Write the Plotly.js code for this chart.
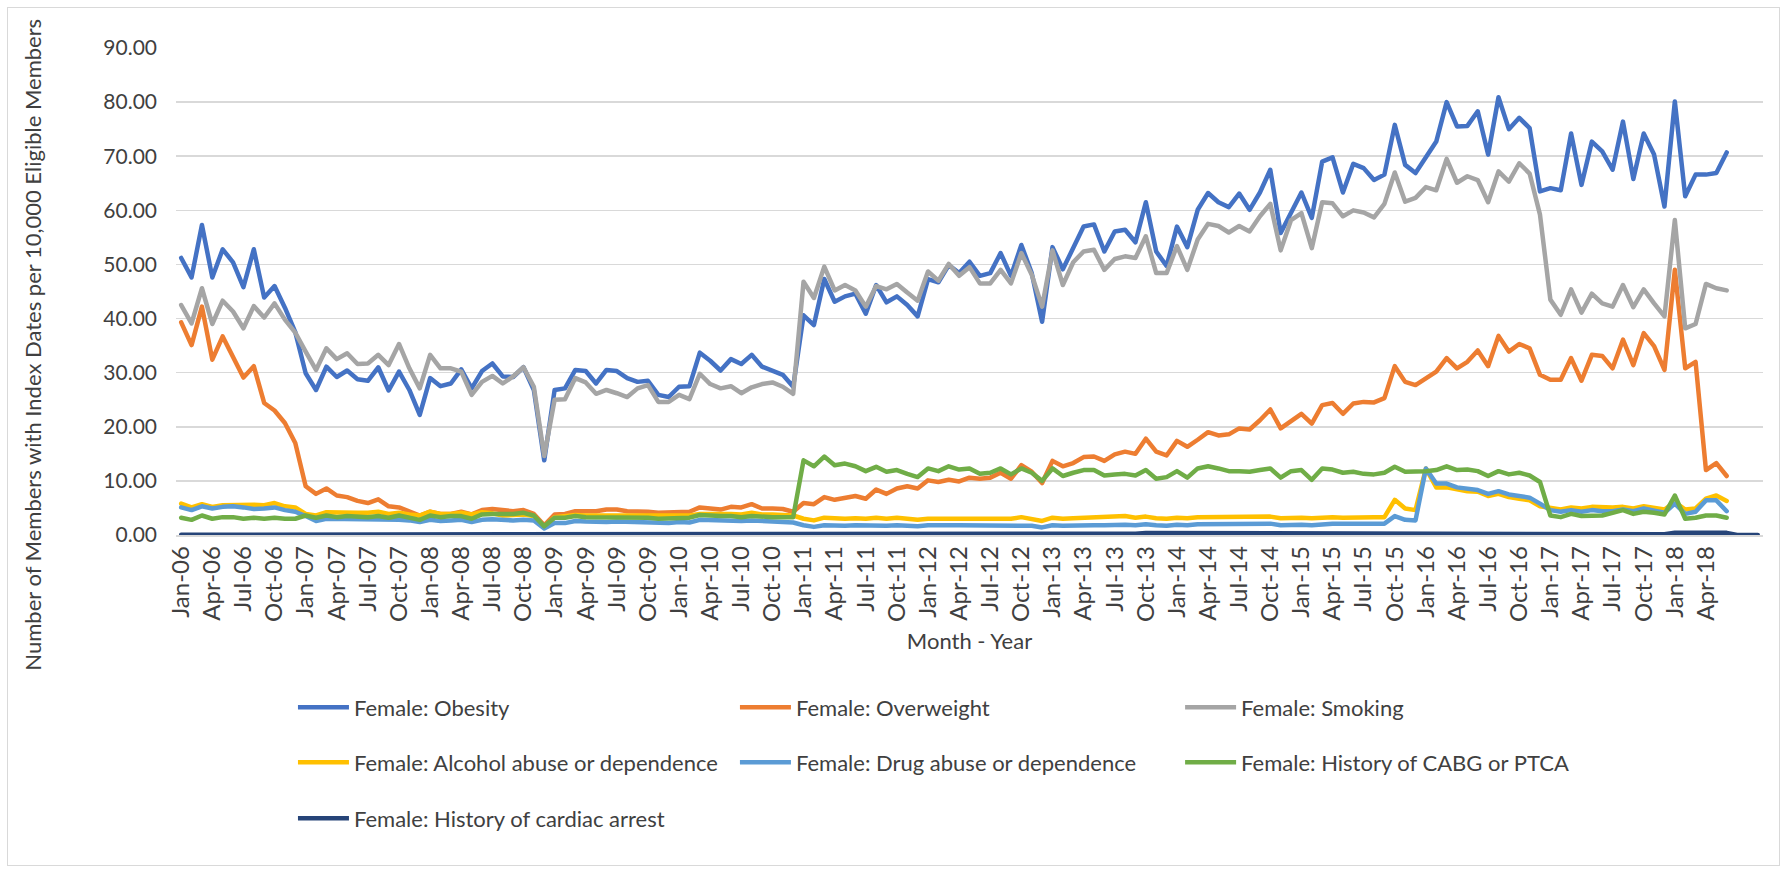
<!DOCTYPE html>
<html>
<head>
<meta charset="utf-8">
<script src="https://cdn.plot.ly/plotly-3.0.1.min.js"></script>
<style>
  html, body { margin: 0; padding: 0; background: #ffffff; }
  #wrap { position: relative; width: 1788px; height: 872px; }
  #chart { width: 1788px; height: 872px; }
  #frame { position: absolute; left: 7px; top: 7px; width: 1771px; height: 857px; border: 1px solid #d9d9d9; pointer-events: none; }
  .scatterlayer .js-line { stroke-linejoin: round; stroke-linecap: round; }
</style>
</head>
<body>
<div id="wrap">
  <div id="chart"></div>
  <div id="frame"></div>
</div>
<script>
const monthNames = ['Jan','Feb','Mar','Apr','May','Jun','Jul','Aug','Sep','Oct','Nov','Dec'];
const firstYear = 6;
const nCategories = 153;
const lastTickLabel = 'Apr-18';

const obesity = [
  51.2,47.6,57.3,47.6,52.8,50.4,45.8,52.8,43.9,46.0,
  42.0,37.5,29.9,26.8,31.1,29.2,30.4,28.8,28.5,31.0,
  26.7,30.2,26.8,22.2,29.0,27.5,28.0,30.6,27.1,30.3,
  31.7,29.3,29.2,31.0,26.8,13.8,26.8,27.1,30.5,30.3,
  28.0,30.5,30.3,29.0,28.3,28.5,25.9,25.5,27.4,27.5,
  33.7,32.2,30.4,32.5,31.6,33.3,31.1,30.4,29.6,27.4,
  40.6,38.8,47.3,43.1,44.1,44.6,40.9,46.2,43.0,44.1,
  42.5,40.4,47.3,46.7,49.9,48.4,50.5,47.9,48.4,52.1,
  47.9,53.6,48.4,39.4,53.2,49.1,53.3,57.0,57.4,52.4,
  56.1,56.4,54.1,61.5,52.4,49.7,57.0,53.2,60.1,63.2,
  61.5,60.6,63.1,60.1,63.3,67.5,55.8,59.6,63.3,58.6,
  69.0,69.8,63.3,68.6,67.8,65.6,66.6,75.8,68.4,66.9,
  69.7,72.7,80.0,75.5,75.6,78.3,70.3,80.9,75.0,77.1,
  75.2,63.5,64.1,63.7,74.2,64.7,72.7,70.9,67.5,76.4,
  65.8,74.2,70.3,60.7,80.1,62.6,66.6,66.6,66.9,70.7
];
const overweight = [
  39.3,35.1,42.2,32.4,36.7,33.0,29.1,31.2,24.4,23.0,
  20.7,17.0,9.0,7.6,8.6,7.3,7.0,6.3,5.9,6.6,
  5.3,5.1,4.3,3.6,4.3,3.9,3.9,4.3,3.8,4.6,
  4.8,4.6,4.4,4.6,3.9,1.8,3.8,3.9,4.4,4.4,
  4.4,4.7,4.7,4.4,4.4,4.3,4.1,4.1,4.3,4.3,
  5.1,4.8,4.7,5.2,5.1,5.7,4.9,4.9,4.8,4.3,
  5.9,5.7,7.0,6.5,6.8,7.2,6.7,8.4,7.6,8.6,
  9.0,8.6,10.1,9.8,10.2,9.9,10.6,10.4,10.6,11.5,
  10.4,12.9,11.7,9.6,13.7,12.7,13.3,14.4,14.5,13.7,
  14.9,15.4,15.0,17.8,15.4,14.7,17.4,16.3,17.6,19.0,
  18.4,18.6,19.7,19.5,21.2,23.2,19.7,21.1,22.4,20.6,
  24.0,24.4,22.4,24.3,24.6,24.5,25.3,31.2,28.3,27.7,
  29.0,30.2,32.7,30.8,32.0,34.1,31.2,36.8,33.9,35.3,
  34.5,29.6,28.7,28.7,32.7,28.5,33.3,33.1,30.8,36.1,
  31.4,37.3,34.9,30.5,49.0,30.8,32.0,12.0,13.3,10.9
];
const smoking = [
  42.5,39.1,45.6,39.0,43.3,41.3,38.2,42.3,40.2,42.8,
  39.8,37.4,33.9,30.5,34.5,32.5,33.6,31.6,31.7,33.3,
  31.4,35.3,30.8,27.1,33.3,30.8,30.8,30.2,25.9,28.3,
  29.4,28.0,29.3,31.0,27.4,14.6,25.0,25.1,29.0,28.2,
  26.1,26.8,26.2,25.5,27.1,27.7,24.6,24.6,25.9,25.1,
  29.8,27.9,27.1,27.5,26.2,27.3,27.9,28.2,27.4,26.1,
  46.8,43.8,49.6,45.2,46.2,45.2,42.2,46.0,45.4,46.4,
  44.8,43.3,48.7,47.0,50.1,47.9,49.5,46.5,46.5,49.0,
  46.5,52.1,48.1,42.2,52.6,46.2,50.4,52.4,52.7,49.0,
  51.0,51.5,51.2,55.2,48.4,48.4,53.4,49.0,54.6,57.5,
  57.1,55.9,57.1,56.1,58.9,61.2,52.6,58.2,59.5,53.0,
  61.5,61.3,58.9,60.0,59.6,58.7,61.2,67.0,61.6,62.3,
  64.3,63.7,69.5,65.1,66.3,65.6,61.5,67.2,65.3,68.7,
  66.8,59.2,43.5,40.7,45.4,41.1,44.6,42.8,42.2,46.2,
  42.1,45.4,42.8,40.4,58.2,38.2,39.0,46.4,45.6,45.2
];
const alcohol = [
  5.8,5.1,5.7,5.2,5.5,5.6,5.5,5.6,5.5,5.9,
  5.3,5.1,3.9,3.6,4.2,4.1,4.2,4.1,4.1,4.3,
  3.9,4.1,3.8,3.6,4.3,3.9,3.9,4.1,3.8,4.2,
  4.0,3.6,3.7,3.8,3.5,1.4,3.3,3.5,3.7,3.6,
  3.6,3.7,3.6,3.6,3.6,3.6,3.5,3.5,3.6,3.6,
  3.9,3.8,3.9,3.9,3.8,4.1,3.8,3.8,3.8,3.6,
  3.0,2.7,3.2,3.0,3.0,3.1,3.0,3.2,3.0,3.2,
  3.0,2.8,3.0,3.0,3.2,3.1,3.1,3.2,3.1,3.2,
  3.0,3.3,3.0,2.6,3.2,3.0,3.1,3.2,3.2,3.2,
  3.3,3.5,3.2,3.4,3.1,3.0,3.2,3.1,3.3,3.3,
  3.2,3.3,3.3,3.2,3.3,3.4,3.1,3.2,3.2,3.1,
  3.3,3.3,3.2,3.3,3.3,3.3,3.3,6.5,4.9,4.6,
  12.3,8.8,8.8,8.4,8.1,8.0,7.2,7.6,7.0,6.7,
  6.4,5.3,4.9,4.7,5.1,4.9,5.2,5.1,5.1,5.2,
  4.9,5.3,5.1,4.7,6.1,4.7,4.9,6.7,7.3,6.3
];
const drug = [
  5.1,4.6,5.3,4.9,5.2,5.3,5.1,4.8,4.9,5.1,
  4.6,4.3,3.5,2.6,3.0,3.0,3.0,2.8,2.8,3.0,
  3.0,2.8,2.7,2.4,2.8,2.6,2.7,2.8,2.4,2.8,
  2.9,2.7,2.7,2.8,2.7,1.2,2.2,2.2,2.6,2.5,
  2.4,2.4,2.5,2.4,2.3,2.3,2.2,2.2,2.4,2.3,
  2.8,2.7,2.7,2.7,2.6,2.7,2.6,2.6,2.5,2.3,
  1.8,1.5,1.8,1.7,1.7,1.8,1.7,1.8,1.7,1.8,
  1.7,1.6,1.8,1.7,1.8,1.8,1.8,1.8,1.8,1.8,
  1.7,1.9,1.7,1.4,1.8,1.7,1.8,1.8,1.8,1.8,
  1.9,1.9,1.8,2.0,1.8,1.7,1.9,1.8,2.0,2.0,
  2.0,2.0,2.0,2.0,2.0,2.1,1.8,1.9,1.9,1.8,
  2.0,2.1,2.1,2.1,2.1,2.1,2.1,3.5,2.8,2.7,
  12.3,9.5,9.5,8.8,8.6,8.3,7.6,8.1,7.5,7.3,
  6.9,5.8,4.6,4.3,4.6,4.3,4.6,4.4,4.4,4.7,
  4.4,4.9,4.6,4.1,5.8,3.9,4.3,6.4,6.4,4.4
];
const cabg = [
  3.2,2.8,3.6,3.0,3.3,3.3,3.0,3.2,3.0,3.2,
  3.0,3.0,3.6,3.2,3.6,3.3,3.5,3.3,3.3,3.5,
  3.2,3.6,3.2,2.8,3.6,3.3,3.5,3.5,3.0,3.8,
  3.9,3.8,3.9,4.1,3.6,1.6,3.2,3.2,3.5,3.3,
  3.3,3.3,3.3,3.2,3.2,3.2,3.0,3.0,3.2,3.2,
  3.7,3.5,3.5,3.5,3.3,3.5,3.3,3.3,3.3,3.3,
  13.8,12.7,14.5,12.9,13.2,12.7,11.8,12.6,11.7,12.0,
  11.3,10.7,12.3,11.8,12.7,12.1,12.3,11.3,11.5,12.3,
  11.2,12.3,11.5,10.0,12.3,10.9,11.5,12.0,12.0,11.0,
  11.2,11.3,11.0,12.0,10.4,10.7,11.8,10.6,12.3,12.7,
  12.3,11.8,11.8,11.7,12.0,12.3,10.6,11.8,12.0,10.2,
  12.3,12.1,11.5,11.7,11.3,11.2,11.5,12.6,11.7,11.7,
  11.8,12.0,12.7,12.0,12.1,11.8,10.9,11.8,11.2,11.5,
  11.0,9.8,3.6,3.3,3.9,3.5,3.6,3.6,4.1,4.6,
  3.9,4.3,4.1,3.8,7.3,3.0,3.2,3.6,3.6,3.2
];
const cardiacArrest = [
  0.05,0.05,0.05,0.05,0.05,0.05,0.05,0.05,0.05,0.05,
  0.05,0.05,0.05,0.05,0.05,0.05,0.05,0.05,0.05,0.05,
  0.05,0.05,0.05,0.05,0.05,0.05,0.05,0.05,0.05,0.05,
  0.1,0.1,0.1,0.1,0.1,0.1,0.1,0.1,0.1,0.1,
  0.1,0.1,0.1,0.1,0.1,0.1,0.1,0.1,0.1,0.1,
  0.1,0.1,0.1,0.1,0.1,0.1,0.1,0.1,0.1,0.1,
  0.25,0.25,0.25,0.25,0.25,0.25,0.25,0.25,0.25,0.25,
  0.25,0.25,0.25,0.25,0.25,0.25,0.25,0.25,0.25,0.25,
  0.25,0.25,0.25,0.25,0.25,0.25,0.25,0.25,0.25,0.25,
  0.25,0.25,0.25,0.35,0.35,0.35,0.35,0.35,0.35,0.35,
  0.35,0.35,0.35,0.35,0.35,0.35,0.35,0.35,0.35,0.35,
  0.35,0.35,0.35,0.35,0.35,0.35,0.35,0.35,0.35,0.35,
  0.35,0.35,0.35,0.35,0.35,0.35,0.35,0.35,0.35,0.35,
  0.35,0.15,0.15,0.15,0.15,0.15,0.15,0.15,0.15,0.15,
  0.15,0.15,0.15,0.15,0.4,0.4,0.4,0.4,0.4,0.4,
  0,0,0
];

const seriesNames = [
  'Female: Obesity',
  'Female: Overweight',
  'Female: Smoking',
  'Female: Alcohol abuse or dependence',
  'Female: Drug abuse or dependence',
  'Female: History of CABG or PTCA',
  'Female: History of cardiac arrest'
];
const seriesValues = [obesity, overweight, smoking, alcohol, drug, cabg, cardiacArrest];
const seriesColors = ['#4472C4', '#ED7D31', '#A5A5A5', '#FFC000', '#5B9BD5', '#70AD47', '#264478'];

// legend grid: 3 columns, 3 rows (paper coords)
const legendColX = [0.0737, 0.3522, 0.6327];
const legendRowY = [-0.354, -0.467, -0.582];

// category labels (Jan-06 ... )
const categories = [];
for (let i = 0; i < nCategories; i++) {
  const yy = String(firstYear + Math.floor(i / 12)).padStart(2, '0');
  categories.push(monthNames[i % 12] + '-' + yy);
}
const tickLabels = [];
for (let i = 0; i < categories.length; i += 3) {
  tickLabels.push(categories[i]);
  if (categories[i] === lastTickLabel) break;
}

const FONT = 'Lato, "Open Sans", sans-serif';
const TXT = '#404040';

const legendKey = k => (k === 0 ? 'legend' : 'legend' + (k + 1));

const traces = seriesValues.map((vals, k) => ({
  type: 'scatter',
  mode: 'lines',
  name: seriesNames[k],
  x: categories.slice(0, vals.length),
  y: vals,
  line: { color: seriesColors[k], width: 4.5 },
  legend: legendKey(k),
  hoverinfo: 'skip'
}));

const layout = {
  width: 1788,
  height: 872,
  margin: { l: 176, r: 25, t: 48, b: 337 },
  paper_bgcolor: '#ffffff',
  plot_bgcolor: '#ffffff',
  showlegend: true,
  font: { family: FONT, color: TXT },
  xaxis: {
    type: 'category',
    categoryorder: 'array',
    categoryarray: categories,
    range: [-0.5, categories.length - 0.5],
    tickmode: 'array',
    tickvals: tickLabels,
    ticktext: tickLabels,
    tickangle: -90,
    tickfont: { family: FONT, size: 24, color: TXT },
    showgrid: false,
    zeroline: false,
    showline: true,
    linecolor: '#d9d9d9',
    linewidth: 1.5,
    ticks: '',
    title: { text: 'Month - Year', font: { family: FONT, size: 22, color: TXT }, standoff: 12 },
    automargin: false,
    fixedrange: true
  },
  yaxis: {
    range: [0, 90],
    tickmode: 'linear',
    tick0: 0,
    dtick: 10,
    tickformat: '.2f',
    tickfont: { family: FONT, size: 21, color: TXT },
    showgrid: true,
    gridcolor: '#d9d9d9',
    gridwidth: 1.5,
    zeroline: false,
    showline: false,
    ticks: '',
    ticklabelstandoff: 18,
    automargin: false,
    fixedrange: true
  },
  annotations: [{
    text: 'Number of Members with Index Dates per 10,000 Eligible Members',
    xref: 'paper', yref: 'paper',
    x: -0.091, y: 0.39,
    xanchor: 'center', yanchor: 'middle',
    textangle: -90,
    showarrow: false,
    font: { family: FONT, size: 22, color: TXT }
  }],
  hovermode: false
};

seriesNames.forEach((nm, k) => {
  layout[legendKey(k)] = {
    orientation: 'h',
    xanchor: 'left',
    yanchor: 'middle',
    x: legendColX[k % 3],
    y: legendRowY[Math.floor(k / 3)],
    itemwidth: 51,
    font: { family: FONT, size: 22, color: TXT },
    bgcolor: 'rgba(0,0,0,0)',
    borderwidth: 0
  };
});

Plotly.newPlot('chart', traces, layout, { staticPlot: true, displayModeBar: false });
</script>
</body>
</html>
